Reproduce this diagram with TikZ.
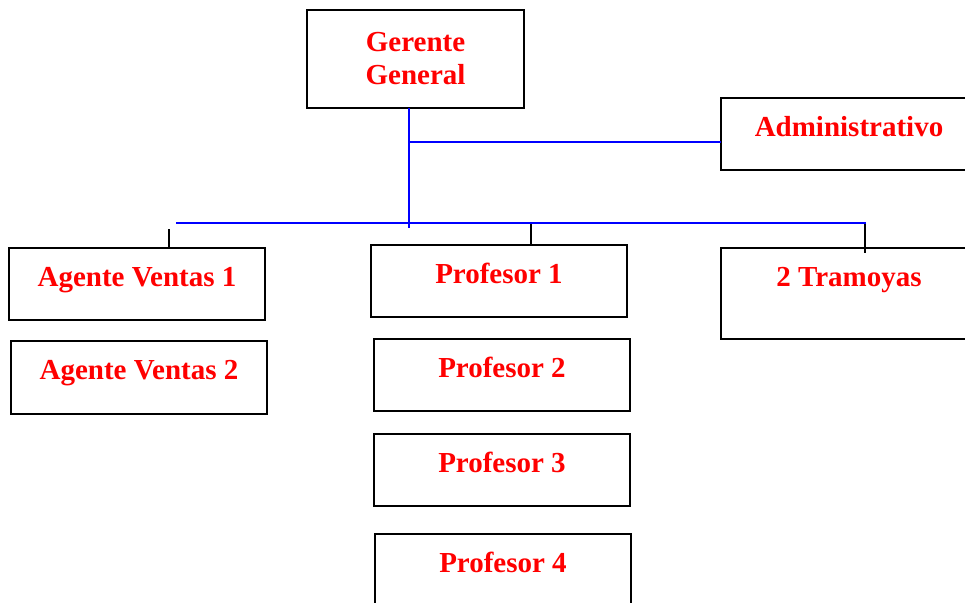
\documentclass[tikz,border=0pt]{standalone}
\usepackage{fontspec}
\setmainfont{Liberation Serif}
\tikzset{
	caja/.style={draw, line width=2pt, inner sep=0pt, outer sep=0pt, anchor=north west, text=red, font=\fontsize{29}{33}\selectfont\bfseries},
	puesto/.style={caja, minimum width=256pt, text height=38.5pt, text depth=33.5pt},
	enlace/.style={blue, line width=2pt},
	palo/.style={black, line width=2pt}
}
\begin{document}
\begin{tikzpicture}[x=1pt, y=-1pt]
\clip (0, 0) rectangle (965, 602);

\node[caja, align=center, minimum width=217pt, minimum height=98pt] (gerente) at (307, 10) {Gerente\\General};
\node[puesto] (admin) at (721, 98) {Administrativo};
\node[puesto, text depth=52.5pt] (tramoyas) at (721, 248) {2 Tramoyas};

\node[puesto] (agente1) at (9, 248) {Agente Ventas 1};
\node[puesto, text depth=34.5pt] (agente2) at (11, 341) {Agente Ventas 2};

\foreach \n/\x/\y in {1/371/245, 2/374/339, 3/374/434, 4/375/534}
	\node[puesto] (prof\n) at (\x, \y) {Profesor \n};

\coordinate (tronco) at (409, 228);
\coordinate (rama) at (409, 142);
\coordinate (barraA) at (176, 223);
\coordinate (barraB) at (866, 223);

\draw[enlace] (tronco |- gerente.south) -- (tronco);
\draw[enlace] (rama) -- (rama -| admin.west);
\draw[enlace] (barraA) -- (barraB);

\draw[palo] (169, 229) -- (169, 248 |- agente1.north);
\draw[palo] (531, 224) -- (531, 245 |- prof1.north);
\draw[palo] (865, 224) -- (865, 253);
\end{tikzpicture}
\end{document}
